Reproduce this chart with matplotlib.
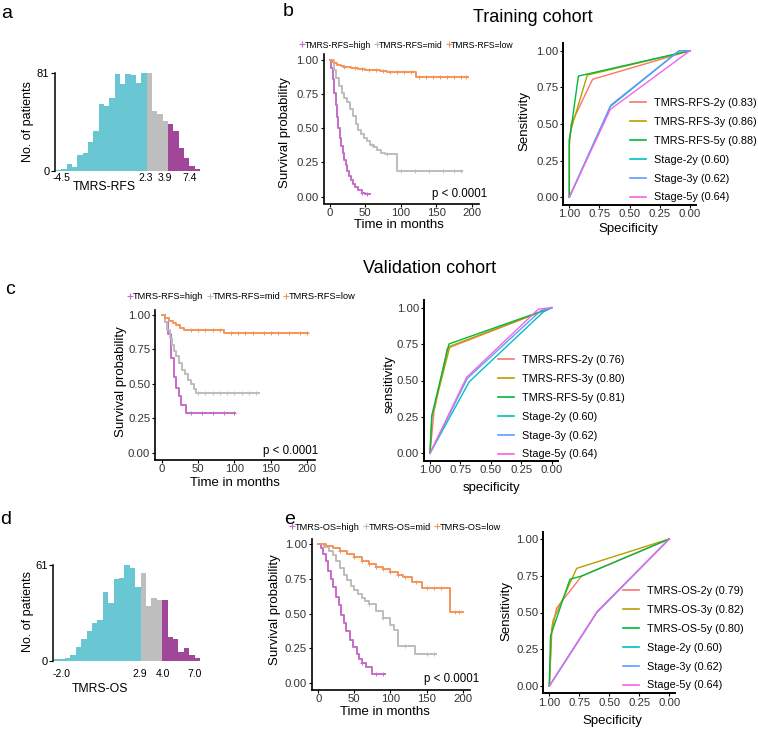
import numpy as np
import matplotlib
matplotlib.use("Agg")
import matplotlib.pyplot as plt
from matplotlib.lines import Line2D

plt.rcParams['font.family'] = ['Liberation Sans', 'DejaVu Sans']

# ---------------- DATA ----------------
# Histogram a (TMRS-RFS) counts per bin, by risk group
a_low = [1, 2, 6, 3, 13, 15, 24, 33, 55, 54, 60, 80, 72, 80, 79, 73, 81]
a_mid = [81, 50, 47, 41]
a_high = [39, 33, 19, 11, 4, 2]
a_ticklabels = ["-4.5", "2.3", "3.9", "7.4"]
a_ymax = 81

# Histogram d (TMRS-OS)
d_low = [1, 1, 2, 4, 9, 14, 19, 24, 26, 44, 37, 52, 53, 61, 59, 47]
d_mid = [56, 35, 40, 39]
d_high = [39, 15, 14, 6, 8, 4, 2]
d_ticklabels = ["-2.0", "2.9", "4.0", "7.0"]
d_ymax = 61

# KM curves (time in months, survival probability)
b_high_t = [0, 2, 4, 6, 8, 10, 12, 14, 16, 18, 20, 22, 24, 27, 30, 33, 36, 40, 45, 50, 56]
b_high_s = [1, 0.94, 0.86, 0.76, 0.67, 0.58, 0.50, 0.43, 0.37, 0.32, 0.27, 0.23, 0.19, 0.15, 0.12, 0.09, 0.07, 0.05, 0.03, 0.02, 0.02]
b_mid_t = [0, 5, 9, 13, 17, 20, 24, 28, 33, 37, 40, 44, 48, 52, 57, 62, 66, 72, 78, 95, 186]
b_mid_s = [1, 0.93, 0.87, 0.81, 0.76, 0.72, 0.69, 0.64, 0.59, 0.53, 0.49, 0.46, 0.43, 0.41, 0.38, 0.36, 0.34, 0.32, 0.31, 0.185, 0.185]
b_low_t = [0, 3, 6, 10, 15, 20, 30, 40, 50, 60, 70, 80, 100, 121, 195]
b_low_s = [1, 0.985, 0.975, 0.965, 0.955, 0.95, 0.94, 0.935, 0.93, 0.925, 0.92, 0.915, 0.912, 0.878, 0.878]
b_high_c = [45, 52]
b_mid_c = [60, 80, 100, 120, 140, 160, 175, 185]
b_low_c = [20, 35, 45, 55, 65, 75, 85, 95, 105, 115, 125, 135, 145, 155, 165, 175, 185, 192]

c_high_t = [0, 5, 9, 13, 17, 20, 24, 27, 33, 101]
c_high_s = [1, 0.95, 0.86, 0.69, 0.55, 0.47, 0.41, 0.35, 0.285, 0.285]
c_mid_t = [0, 4, 8, 11, 14, 17, 20, 24, 28, 32, 36, 40, 44, 47, 133]
c_mid_s = [1, 0.95, 0.89, 0.83, 0.78, 0.74, 0.70, 0.65, 0.60, 0.57, 0.53, 0.50, 0.46, 0.435, 0.435]
c_low_t = [0, 5, 10, 15, 20, 25, 30, 86, 201]
c_low_s = [1, 0.98, 0.96, 0.94, 0.925, 0.905, 0.893, 0.872, 0.872]
c_high_c = [40, 55, 70, 85, 100]
c_mid_c = [50, 60, 70, 80, 90, 100, 110, 120, 130]
c_low_c = [40, 50, 60, 70, 80, 95, 105, 115, 125, 140, 150, 160, 175, 190, 200]

e_high_t = [0, 4, 7, 10, 14, 17, 21, 24, 28, 31, 35, 39, 44, 48, 53, 57, 60, 66, 74, 92]
e_high_s = [1, 0.97, 0.93, 0.88, 0.81, 0.75, 0.69, 0.62, 0.56, 0.49, 0.43, 0.37, 0.31, 0.26, 0.21, 0.17, 0.14, 0.11, 0.065, 0.065]
e_mid_t = [0, 8, 15, 20, 25, 30, 35, 40, 45, 50, 55, 60, 65, 70, 80, 90, 100, 105, 110, 134, 163]
e_mid_s = [1, 0.98, 0.95, 0.92, 0.88, 0.83, 0.78, 0.74, 0.70, 0.67, 0.64, 0.61, 0.59, 0.57, 0.52, 0.47, 0.42, 0.38, 0.265, 0.205, 0.205]
e_low_t = [0, 10, 20, 30, 40, 50, 60, 70, 80, 90, 100, 110, 118, 130, 143, 182, 200]
e_low_s = [1, 0.985, 0.97, 0.95, 0.93, 0.905, 0.88, 0.855, 0.835, 0.82, 0.80, 0.78, 0.761, 0.73, 0.687, 0.513, 0.513]
e_high_c = [60, 80, 90]
e_mid_c = [70, 90, 120, 150, 160]
e_low_c = [30, 50, 60, 70, 80, 90, 100, 110, 120, 135, 150, 160, 170, 190, 195]

km_labels_rfs = ["TMRS-RFS=high", "TMRS-RFS=mid", "TMRS-RFS=low"]
km_labels_os = ["TMRS-OS=high", "TMRS-OS=mid", "TMRS-OS=low"]
p_text = "p < 0.0001"

# ROC curves: (specificity, sensitivity)
b_roc_spec = [[1.0, 1.0, 0.985, 0.807, 0.0], [1.0, 1.0, 0.98, 0.851, 0.0], [1.0, 1.0, 0.985, 0.925, 0.0],
              [1.0, 0.66, 0.09, 0.0], [1.0, 0.655, 0.09, 0.0], [1.0, 0.66, 0.0]]
b_roc_sens = [[0.0, 0.35, 0.50, 0.805, 1.0], [0.0, 0.40, 0.48, 0.834, 1.0], [0.0, 0.39, 0.47, 0.827, 1.0],
              [0.0, 0.62, 1.0, 1.0], [0.0, 0.63, 1.0, 1.0], [0.0, 0.60, 1.0]]
b_roc_labels = ["TMRS-RFS-2y (0.83)", "TMRS-RFS-3y (0.86)", "TMRS-RFS-5y (0.88)",
                "Stage-2y (0.60)", "Stage-3y (0.62)", "Stage-5y (0.64)"]

c_roc_spec = [[1.0, 0.967, 0.858, 0.0], [1.0, 0.985, 0.836, 0.0], [1.0, 0.985, 0.844, 0.0],
              [1.0, 0.677, 0.07, 0.0], [1.0, 0.693, 0.09, 0.0], [1.0, 0.699, 0.11, 0.0]]
c_roc_sens = [[0.0, 0.286, 0.721, 1.0], [0.0, 0.25, 0.735, 1.0], [0.0, 0.26, 0.751, 1.0],
              [0.0, 0.492, 0.97, 1.0], [0.0, 0.515, 0.98, 1.0], [0.0, 0.522, 0.99, 1.0]]
c_roc_labels = ["TMRS-RFS-2y (0.76)", "TMRS-RFS-3y (0.80)", "TMRS-RFS-5y (0.81)",
                "Stage-2y (0.60)", "Stage-3y (0.62)", "Stage-5y (0.64)"]

e_roc_spec = [[1.0, 0.98, 0.94, 0.73, 0.0], [1.0, 0.98, 0.967, 0.772, 0.0], [1.0, 0.99, 0.828, 0.73, 0.0],
              [1.0, 0.605, 0.0], [1.0, 0.60, 0.0], [1.0, 0.598, 0.0]]
e_roc_sens = [[0.0, 0.36, 0.53, 0.748, 1.0], [0.0, 0.39, 0.45, 0.80, 1.0], [0.0, 0.34, 0.726, 0.748, 1.0],
              [0.0, 0.50, 1.0], [0.0, 0.505, 1.0], [0.0, 0.51, 1.0]]
e_roc_labels = ["TMRS-OS-2y (0.79)", "TMRS-OS-3y (0.82)", "TMRS-OS-5y (0.80)",
                "Stage-2y (0.60)", "Stage-3y (0.62)", "Stage-5y (0.64)"]

# ---------------- STYLE ----------------
W, H = 758, 730
HIST_COLORS = ["#69C6D3", "#BEBEBE", "#A0479A"]
KM_COLORS = ["#C66BC8", "#BDBDBD", "#F4955A"]
ROC_COLORS = ["#F8766D", "#B79F00", "#00BA38", "#00BFC4", "#619CFF", "#F564E3"]
TICK_FS = 8.2
HIST_TICK_FS = 7.5
TITLE_FS = 9.5
TICK_COLOR = "#333333"
# label positions (in bar-index units) for the histogram x tick labels
A_TICKPOS = [0.95, 16.9, 20.35, 25.0]
D_TICKPOS = [1.45, 15.9, 20.1, 26.0]

fig = plt.figure(figsize=(W / 100, H / 100), dpi=100)


def axes_px(l, t, r, b):
    return fig.add_axes([l / W, 1 - b / H, (r - l) / W, (b - t) / H])


def ftext(x, y, s, **kw):
    kw.setdefault("ha", "center")
    kw.setdefault("va", "center")
    fig.text(x / W, 1 - y / H, s, **kw)


def classic(ax, lw=1.2):
    for sp in ["top", "right"]:
        ax.spines[sp].set_visible(False)
    for sp in ["left", "bottom"]:
        ax.spines[sp].set_linewidth(lw)
        ax.spines[sp].set_color("black")
    ax.tick_params(labelsize=TICK_FS, labelcolor=TICK_COLOR, length=2.5, width=0.8, pad=1)


def hist_panel(box, groups, ymax, ticklabels, tickpos, xpad):
    ax = axes_px(*box)
    counts = np.concatenate([np.asarray(g, float) for g in groups])
    cols = sum([[HIST_COLORS[i]] * len(g) for i, g in enumerate(groups)], [])
    x = np.arange(len(counts))
    ax.bar(x, counts, width=1.0, align="edge", color=cols, linewidth=0)
    ax.set_xlim(-0.2, len(counts))
    ax.set_ylim(0, ymax)
    for sp in ["top", "right", "bottom"]:
        ax.spines[sp].set_visible(False)
    ax.spines["left"].set_linewidth(1.1)
    ax.set_yticks([0, ymax])
    ax.set_yticklabels(["0", str(ymax)])
    ax.set_xticks(tickpos)
    ax.set_xticklabels(ticklabels)
    ax.tick_params(axis="y", labelsize=HIST_TICK_FS + 0.5, length=3, width=0.8, pad=1)
    ax.tick_params(axis="x", labelsize=HIST_TICK_FS, length=0, pad=xpad)
    return ax


def km_panel(box, curves, cens, labels, p_xy, leg_xy):
    ax = axes_px(*box)
    for (t, s), c, col in zip(curves, cens, KM_COLORS):
        t = np.asarray(t, float)
        s = np.asarray(s, float)
        ax.step(t, s, where="post", color=col, lw=1.4)
        c = np.asarray(c, float)
        idx = np.searchsorted(t, c, side="right") - 1
        ax.plot(c, s[idx], linestyle="None", marker="+", color=col, ms=3.5, mew=0.7)
    ax.set_xlim(-9, 210)
    ax.set_ylim(-0.05, 1.04)
    ax.set_xticks([0, 50, 100, 150, 200])
    ax.set_yticks([0, 0.25, 0.5, 0.75, 1.0])
    ax.set_yticklabels(["0.00", "0.25", "0.50", "0.75", "1.00"])
    classic(ax)
    ax.text(p_xy[0], p_xy[1], p_text, ha="center", va="center", fontsize=8.3, color="black")
    handles = [Line2D([], [], color=col, marker="+", linestyle="None", ms=4, mew=0.8) for col in KM_COLORS]
    ax.legend(handles, labels, loc="center left", bbox_to_anchor=(leg_xy[0] / W, 1 - leg_xy[1] / H),
              bbox_transform=fig.transFigure, ncol=3, frameon=False, fontsize=leg_xy[2],
              handlelength=0.5, handletextpad=0.05, columnspacing=0.4, borderpad=0, borderaxespad=0)
    return ax


def roc_panel(box, specs, senss, labels, leg_xy):
    ax = axes_px(*box)
    for sp_, se_, col in zip(specs, senss, ROC_COLORS):
        ax.plot(sp_, se_, color=col, lw=1.0)
    ax.set_xlim(1.05, -0.05)
    ax.set_ylim(-0.05, 1.05)
    ticks = [1.0, 0.75, 0.5, 0.25, 0.0]
    ax.set_xticks(ticks)
    ax.set_xticklabels(["%.2f" % v for v in ticks])
    ax.set_yticks(ticks)
    ax.set_yticklabels(["%.2f" % v for v in ticks])
    classic(ax, lw=1.4)
    leg_handles = [Line2D([], [], color=col, lw=1.2) for col in ROC_COLORS]
    ax.legend(leg_handles, labels, loc="upper left", bbox_to_anchor=(leg_xy[0] / W, 1 - leg_xy[1] / H),
              bbox_transform=fig.transFigure, frameon=False, fontsize=7.8,
              handlelength=1.5, handletextpad=0.7, labelspacing=0.82, borderpad=0, borderaxespad=0)
    return ax


# ---------------- PANELS ----------------
# a
hist_panel((55, 73, 200, 171), [a_low, a_mid, a_high], a_ymax, a_ticklabels, A_TICKPOS, 1.5)
ftext(28, 122, "No. of patients", rotation=90, fontsize=9)
ftext(104, 187, "TMRS-RFS", fontsize=8.8)

# d
hist_panel((53, 565, 200, 661), [d_low, d_mid, d_high], d_ymax, d_ticklabels, D_TICKPOS, 6)
ftext(28, 612, "No. of patients", rotation=90, fontsize=9)
ftext(100, 689, "TMRS-OS", fontsize=8.8)

# b
km_panel((323.6, 54.5, 478.8, 203.5),
         [(b_high_t, b_high_s), (b_mid_t, b_mid_s), (b_low_t, b_low_s)],
         [b_high_c, b_mid_c, b_low_c], km_labels_rfs, (183, 0.02), (300, 45, 6.2))
ftext(285, 133, "Survival probability", rotation=90, fontsize=TITLE_FS)
ftext(399, 225, "Time in months", fontsize=TITLE_FS)
roc_panel((563.3, 43.4, 696, 204.6), b_roc_spec, b_roc_sens, b_roc_labels, (630, 98))
ftext(524, 121, "Sensitivity", rotation=90, fontsize=TITLE_FS)
ftext(628, 229, "Specificity", fontsize=TITLE_FS)

# c
km_panel((155.1, 309.5, 314.6, 459.6),
         [(c_high_t, c_high_s), (c_mid_t, c_mid_s), (c_low_t, c_low_s)],
         [c_high_c, c_mid_c, c_low_c], km_labels_rfs, (177, 0.01), (128, 297, 6.7))
ftext(121, 382, "Survival probability", rotation=90, fontsize=TITLE_FS)
ftext(235, 483, "Time in months", fontsize=TITLE_FS)
roc_panel((423.9, 300.4, 557.8, 460.6), c_roc_spec, c_roc_sens, c_roc_labels, (498, 355))
ftext(390, 384, "sensitivity", rotation=90, fontsize=TITLE_FS)
ftext(491, 488, "specificity", fontsize=TITLE_FS)

# e
km_panel((311.8, 538.8, 469.9, 689.6),
         [(e_high_t, e_high_s), (e_mid_t, e_mid_s), (e_low_t, e_low_s)],
         [e_high_c, e_mid_c, e_low_c], km_labels_os, (185, 0.03), (290, 527, 6.6))
ftext(275, 610, "Survival probability", rotation=90, fontsize=TITLE_FS)
ftext(385, 712, "Time in months", fontsize=TITLE_FS)
roc_panel((543.3, 531.6, 675.3, 693.4), e_roc_spec, e_roc_sens, e_roc_labels, (622.7, 586))
ftext(506, 611, "Sensitivity", rotation=90, fontsize=TITLE_FS)
ftext(612, 721, "Specificity", fontsize=TITLE_FS)

# titles and panel letters
ftext(533, 18, "Training cohort", fontsize=13)
ftext(430, 268, "Validation cohort", fontsize=13)
for x, y, s in [(7, 13, "a"), (288, 12, "b"), (10, 289, "c"), (6, 519, "d"), (290, 519, "e")]:
    ftext(x, y, s, fontsize=14)

fig.savefig("out.png", dpi=100)
